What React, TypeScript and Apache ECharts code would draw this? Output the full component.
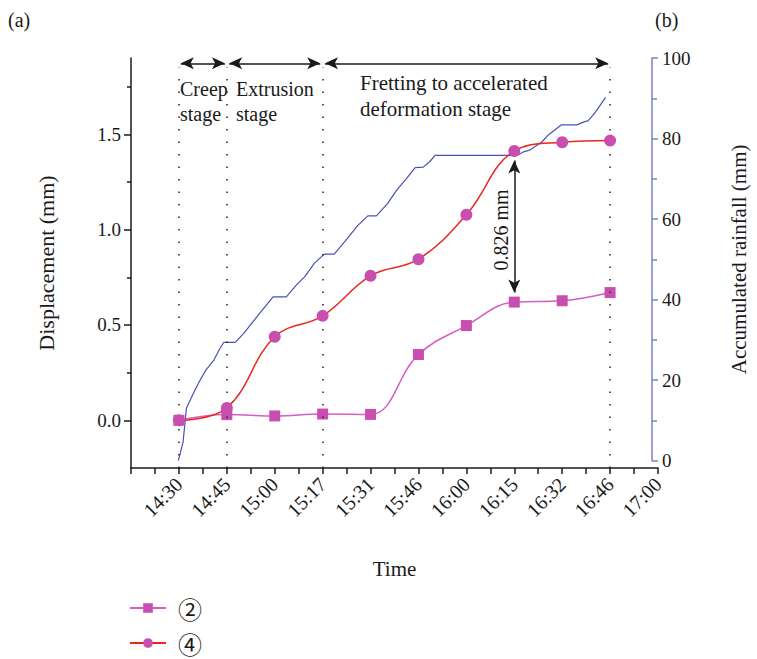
import React, { useEffect, useRef } from "react";
import * as echarts from "echarts";

const timeLabels = ["14:30", "14:45", "15:00", "15:17", "15:31", "15:46", "16:00", "16:15", "16:32", "16:46", "17:00"];
const series2Values = [0.0, 0.03, 0.023, 0.033, 0.031, 0.345, 0.497, 0.62, 0.627, 0.67];
const series4Values = [0.0, 0.065, 0.438, 0.548, 0.758, 0.845, 1.078, 1.412, 1.458, 1.467];
const rainfall: [number, number][] = [
  [0, 0], [0.1, 4.7], [0.17, 13], [0.3, 16.3], [0.44, 19.6], [0.58, 22.5], [0.75, 25], [0.86, 27.5],
  [0.96, 29.4], [1.2, 29.4], [1.38, 31.6], [1.69, 36.2], [2.0, 40.7], [2.28, 40.7], [2.49, 43.6],
  [2.67, 45.7], [2.87, 49], [3.08, 51.3], [3.29, 51.3], [3.57, 55.2], [3.78, 58.3], [4.0, 60.8],
  [4.18, 60.8], [4.42, 63.9], [4.61, 67.2], [4.82, 70.1], [5.0, 72.8], [5.17, 72.9], [5.31, 74.3],
  [5.42, 75.8], [7.15, 75.8], [7.29, 76.7], [7.43, 77.2], [7.68, 79.2], [7.81, 80.9], [8.09, 83.4],
  [8.41, 83.4], [8.58, 84.2], [8.65, 84.4], [8.79, 86.3], [9.02, 90.2],
];
const stageBoundaries = [0, 1, 3, 9];
const leftMajorTicks = [0, 0.5, 1.0, 1.5];
const leftMinorTicks = [0.25, 0.75, 1.25, 1.75];

const FONT = "'Liberation Serif', 'DejaVu Serif', 'Noto Sans CJK SC', serif";
const CIRCLED_FONT = "'Noto Sans CJK JP', 'DejaVu Sans', serif";

export default function App() {
  const ref = useRef<HTMLDivElement>(null);
  useEffect(() => {
    if (!ref.current) return;
    const chart = echarts.init(ref.current, undefined, { renderer: "svg" });
    const arrowY = 1.872;
    const option: any = {
      animation: false,
      backgroundColor: "#ffffff",
      textStyle: { fontFamily: FONT, color: "#1a1a1a" },
      grid: [
        { left: 131, top: 58, width: 527, height: 410 },
        { left: 131, top: 58, width: 527, height: 402.7 },
      ],
      legend: {
        orient: "vertical",
        left: 129,
        top: 595,
        height: 64,
        padding: 0,
        itemWidth: 36,
        itemHeight: 12,
        itemGap: 9,
        data: ["②", "④"],
        textStyle: { fontFamily: CIRCLED_FONT, fontSize: 24, lineHeight: 26, color: "#1a1a1a", padding: [0, 0, 0, 7] },
      },
      xAxis: [
        {
          type: "value",
          gridIndex: 0,
          min: -1,
          max: 10,
          interval: 1,
          name: "Time",
          nameLocation: "middle",
          nameGap: 90,
          nameTextStyle: { fontFamily: FONT, fontSize: 21, color: "#1a1a1a" },
          axisLine: { show: true, onZero: false, lineStyle: { color: "#1a1a1a", width: 1.5 } },
          axisTick: { show: true, inside: false, length: 6, lineStyle: { color: "#1a1a1a", width: 1.5 } },
          minorTick: { show: true, splitNumber: 2, length: 6, lineStyle: { color: "#1a1a1a", width: 1.5 } },
          axisLabel: {
            rotate: 45,
            margin: 13,
            fontFamily: FONT,
            fontSize: 20,
            color: "#1a1a1a",
            formatter: (v: number) => (v >= 0 && v < timeLabels.length ? timeLabels[Math.round(v)] : ""),
          },
          splitLine: { show: false },
          minorSplitLine: { show: false },
        },
        { type: "value", gridIndex: 1, min: -1, max: 10, interval: 1, show: false },
      ],
      yAxis: [
        {
          type: "value",
          gridIndex: 0,
          position: "left",
          min: -0.25,
          max: 1.9,
          name: "Displacement (mm)",
          nameLocation: "middle",
          nameGap: 74,
          nameRotate: 90,
          nameTextStyle: { fontFamily: FONT, fontSize: 22, color: "#1a1a1a" },
          axisLine: { show: true, onZero: false, lineStyle: { color: "#1a1a1a", width: 1.5 } },
          axisTick: { show: true, length: 7, customValues: leftMajorTicks, lineStyle: { color: "#1a1a1a", width: 1.5 } },
          axisLabel: {
            customValues: leftMajorTicks,
            fontFamily: FONT,
            fontSize: 19,
            color: "#1a1a1a",
            margin: 10,
            formatter: (v: number) => v.toFixed(1),
          },
          splitLine: { show: false },
        },
        {
          type: "value",
          gridIndex: 0,
          position: "left",
          min: -0.25,
          max: 1.9,
          axisLine: { show: false, onZero: false },
          axisTick: { show: true, length: 4, customValues: leftMinorTicks, lineStyle: { color: "#1a1a1a", width: 1.5 } },
          axisLabel: { show: false },
          splitLine: { show: false },
        },
        {
          type: "value",
          gridIndex: 1,
          position: "right",
          min: 0,
          max: 100,
          interval: 20,
          name: "Accumulated rainfall (mm)",
          nameLocation: "middle",
          nameGap: 76,
          nameRotate: 90,
          nameTextStyle: { fontFamily: FONT, fontSize: 21, color: "#1a1a1a" },
          axisLine: { show: true, onZero: false, lineStyle: { color: "#7b80c9", width: 1.5 } },
          axisTick: { show: true, length: 6, lineStyle: { color: "#7b80c9", width: 1.5 } },
          minorTick: { show: true, splitNumber: 2, length: 5, lineStyle: { color: "#7b80c9", width: 1.5 } },
          axisLabel: { fontFamily: FONT, fontSize: 19, color: "#1a1a1a", margin: 10 },
          splitLine: { show: false },
          minorSplitLine: { show: false },
        },
      ],
      series: [
        {
          name: "②",
          type: "line",
          xAxisIndex: 0,
          yAxisIndex: 0,
          smooth: 0.4,
          symbol: "rect",
          symbolSize: 11,
          z: 4,
          lineStyle: { color: "#d35fc2", width: 1.5 },
          itemStyle: { color: "#c84fb0" },
          data: series2Values.map((v, i) => [i, v]),
          markLine: {
            silent: true,
            symbol: ["none", "none"],
            label: { show: false },
            lineStyle: { color: "#222", width: 1.5, type: [1.5, 11] },
            data: stageBoundaries.map((b) => [{ coord: [b, -0.25] }, { coord: [b, 1.85] }]),
          },
        },
        {
          name: "④",
          type: "line",
          xAxisIndex: 0,
          yAxisIndex: 0,
          smooth: 0.4,
          symbol: "circle",
          symbolSize: 12,
          z: 5,
          lineStyle: { color: "#e8281e", width: 1.5 },
          itemStyle: { color: "#c84fb0" },
          data: series4Values.map((v, i) => [i, v]),
          markLine: {
            silent: true,
            symbol: ["arrow", "arrow"],
            symbolSize: [9, 13],
            label: { show: false },
            lineStyle: { color: "#1a1a1a", width: 1.5, type: "solid" },
            data: [
              [{ coord: [0.04, arrowY] }, { coord: [0.96, arrowY] }],
              [{ coord: [1.05, arrowY] }, { coord: [2.95, arrowY] }],
              [{ coord: [3.05, arrowY] }, { coord: [8.96, arrowY] }],
              [{ coord: [7, series4Values[7] - 0.05] }, { coord: [7, series2Values[7] + 0.05] }],
            ],
          },
        },
        {
          name: "rainfall",
          type: "line",
          xAxisIndex: 1,
          yAxisIndex: 2,
          symbol: "none",
          smooth: false,
          z: 3,
          lineStyle: { color: "#4b50b4", width: 1.2 },
          data: rainfall,
        },
      ],
      graphic: [
        { type: "text", left: 8, top: 10, style: { text: "(a)", font: `20px ${FONT}`, fill: "#1a1a1a" } },
        { type: "text", left: 655, top: 10, style: { text: "(b)", font: `20px ${FONT}`, fill: "#1a1a1a" } },
        { type: "text", x: 180, y: 76, style: { text: "Creep\nstage", font: `20px ${FONT}`, fill: "#1a1a1a", lineHeight: 25 } },
        { type: "text", x: 236, y: 76, style: { text: "Extrusion\nstage", font: `20px ${FONT}`, fill: "#1a1a1a", lineHeight: 25 } },
        { type: "text", x: 360, y: 70, style: { text: "Fretting to accelerated\ndeformation stage", font: `21px ${FONT}`, fill: "#1a1a1a", lineHeight: 26 } },
        {
          type: "text",
          x: 501,
          y: 230,
          rotation: Math.PI / 2,
          style: { text: "0.826 mm", font: `20px ${FONT}`, fill: "#1a1a1a", align: "center", verticalAlign: "middle" },
        },
      ],
    };
    chart.setOption(option);
    return () => chart.dispose();
  }, []);
  return <div ref={ref} style={{ position: "fixed", left: 0, top: 0, width: 757, height: 659 }} />;
}
